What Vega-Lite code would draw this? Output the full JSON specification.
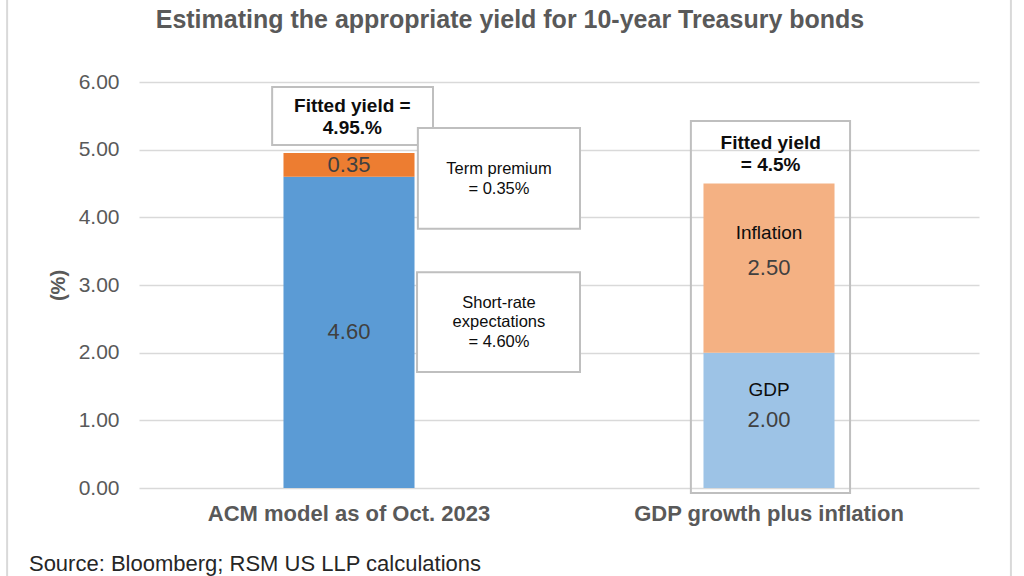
{
  "$schema": "https://vega.github.io/schema/vega-lite/v6.json",
  "width": 840,
  "height": 406,
  "autosize": {"type": "none"},
  "padding": {"left": 139, "top": 82, "right": 45, "bottom": 88},
  "background": "white",
  "config": {"font": "Liberation Sans", "view": {"stroke": null}},
  "layer": [
    {
      "data": {
        "values": [
          {"cat": "ACM model as of Oct. 2023", "segment": "Short-rate expectations", "value": 4.60, "order": 1},
          {"cat": "ACM model as of Oct. 2023", "segment": "Term premium", "value": 0.35, "order": 2},
          {"cat": "GDP growth plus inflation", "segment": "GDP", "value": 2.00, "order": 1},
          {"cat": "GDP growth plus inflation", "segment": "Inflation", "value": 2.50, "order": 2}
        ]
      },
      "transform": [
        {"stack": "value", "groupby": ["cat"], "sort": [{"field": "order", "order": "ascending"}], "as": ["v0", "v1"]}
      ],
      "encoding": {
        "x": {
          "field": "cat",
          "type": "nominal",
          "sort": null,
          "scale": {"domain": ["ACM model as of Oct. 2023", "GDP growth plus inflation"], "paddingInner": 0, "paddingOuter": 0},
          "axis": {
            "title": null,
            "domain": false,
            "ticks": false,
            "grid": false,
            "labelAngle": 0,
            "labelLimit": 0,
            "labelFontSize": 22,
            "labelFontWeight": "bold",
            "labelColor": "#595959",
            "labelPadding": 15
          }
        }
      },
      "layer": [
        {
          "mark": {"type": "bar", "width": {"band": 0.312}},
          "encoding": {
            "y": {
              "field": "v0",
              "type": "quantitative",
              "scale": {"domain": [0, 6], "nice": false, "zero": false},
              "axis": {
                "values": [0, 1, 2, 3, 4, 5, 6],
                "format": ".2f",
                "grid": true,
                "gridColor": "#d9d9d9",
                "gridWidth": 1.5,
                "domain": false,
                "ticks": false,
                "labelFontSize": 21,
                "labelColor": "#595959",
                "labelPadding": 20,
                "title": "(%)",
                "titleFontSize": 20,
                "titleFontWeight": "bold",
                "titleColor": "#595959",
                "titlePadding": 10
              }
            },
            "y2": {"field": "v1"},
            "color": {
              "field": "segment",
              "type": "nominal",
              "scale": {
                "domain": ["Short-rate expectations", "Term premium", "GDP", "Inflation"],
                "range": ["#5B9BD5", "#ED7D31", "#9DC3E6", "#F4B183"]
              },
              "legend": null
            }
          }
        },
        {
          "transform": [
            {"fold": ["v0", "v1"], "as": ["edge", "pos"]},
            {"aggregate": [{"op": "mean", "field": "pos", "as": "mid"}], "groupby": ["cat", "segment", "value"]}
          ],
          "mark": {"type": "text", "fontSize": 22, "color": "#404040", "baseline": "middle"},
          "encoding": {
            "y": {"field": "mid", "type": "quantitative", "scale": {"domain": [0, 6], "nice": false, "zero": false}},
            "text": {"field": "value", "type": "quantitative", "format": ".2f"}
          }
        }
      ]
    },
    {
      "encoding": {
        "x": {"field": "x", "type": "quantitative", "scale": {"domain": [0, 2], "nice": false, "zero": false}, "axis": null},
        "y": {"field": "y", "type": "quantitative", "scale": {"domain": [0, 6], "nice": false, "zero": false}, "axis": null}
      },
      "layer": [
        {
          "data": {"values": [{"x": -0.314, "x2": 2.076, "y": 7.5, "y2": -1.6}]},
          "mark": {"type": "rect", "fill": null, "fillOpacity": 0, "stroke": "#d9d9d9", "strokeWidth": 2},
          "encoding": {"x2": {"field": "x2"}, "y2": {"field": "y2"}}
        },
        {
          "data": {"values": [{"x": 1.314, "x2": 1.693, "y": 5.423, "y2": -0.074}]},
          "mark": {"type": "rect", "fill": null, "fillOpacity": 0, "stroke": "#bfbfbf", "strokeWidth": 2},
          "encoding": {"x2": {"field": "x2"}, "y2": {"field": "y2"}}
        },
        {
          "data": {
            "values": [
              {"x": 0.317, "x2": 0.700, "y": 5.926, "y2": 5.069},
              {"x": 0.664, "x2": 1.050, "y": 5.32, "y2": 3.83},
              {"x": 0.662, "x2": 1.050, "y": 3.19, "y2": 1.714}
            ]
          },
          "mark": {"type": "rect", "fill": "white", "stroke": "#bfbfbf", "strokeWidth": 2},
          "encoding": {"x2": {"field": "x2"}, "y2": {"field": "y2"}}
        },
        {
          "data": {
            "values": [
              {"label": ["Fitted yield =", "4.95.%"], "x": 0.508, "y": 5.645},
              {"label": ["Fitted yield", "= 4.5%"], "x": 1.504, "y": 5.098}
            ]
          },
          "mark": {"type": "text", "fontSize": 19, "fontWeight": "bold", "color": "#0d0d0d", "lineHeight": 22, "baseline": "middle", "align": "center"},
          "encoding": {"text": {"field": "label"}}
        },
        {
          "data": {
            "values": [
              {"label": ["Term premium", "= 0.35%"], "x": 0.857, "y": 4.714},
              {"label": ["Short-rate", "expectations", "= 4.60%"], "x": 0.857, "y": 2.734}
            ]
          },
          "mark": {"type": "text", "fontSize": 16.5, "color": "#0d0d0d", "lineHeight": 19.5, "baseline": "middle", "align": "center"},
          "encoding": {"text": {"field": "label"}}
        },
        {
          "data": {
            "values": [
              {"label": "Inflation", "x": 1.5, "y": 3.768},
              {"label": "GDP", "x": 1.5, "y": 1.448}
            ]
          },
          "mark": {"type": "text", "fontSize": 19, "color": "#0d0d0d", "baseline": "middle", "align": "center"},
          "encoding": {"text": {"field": "label"}}
        },
        {
          "data": {"values": [{"label": "Estimating the appropriate yield for 10-year Treasury bonds", "x": 0.8833, "y": 6.798}]},
          "mark": {"type": "text", "fontSize": 25, "fontWeight": "bold", "color": "#595959", "baseline": "alphabetic", "align": "center"},
          "encoding": {"text": {"field": "label"}}
        },
        {
          "data": {"values": [{"label": "Source: Bloomberg; RSM US LLP calculations", "x": -0.262, "y": -1.227}]},
          "mark": {"type": "text", "fontSize": 22, "color": "#262626", "baseline": "alphabetic", "align": "left"},
          "encoding": {"text": {"field": "label"}}
        }
      ]
    }
  ],
  "resolve": {"scale": {"x": "independent", "y": "independent"}, "axis": {"x": "independent", "y": "independent"}}
}
